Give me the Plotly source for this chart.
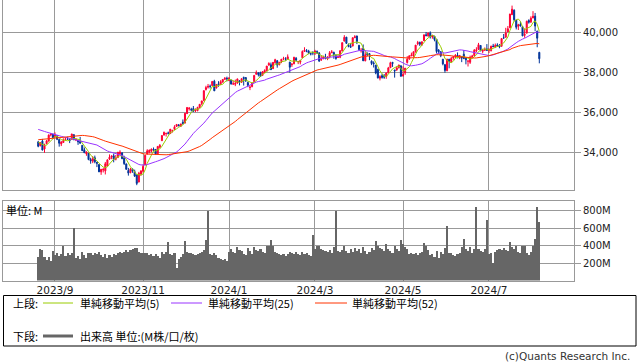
import pandas as pd
import plotly.graph_objects as go

# ---------------- data ----------------
start_date = "2023-08-22"
end_date = "2024-08-05"
holidays = ["2023-09-04", "2023-11-23", "2023-12-25", "2024-01-01", "2024-01-15",
            "2024-02-19", "2024-03-29", "2024-05-27", "2024-06-19", "2024-07-04"]

tick_dates = ["2023-09-01", "2023-11-01", "2024-01-02", "2024-03-01", "2024-05-01", "2024-07-01"]
tick_text = ["2023/9", "2023/11", "2024/1", "2024/3", "2024/5", "2024/7"]

# closes before the first drawn candle (needed for the moving averages)
prior_close = [33665, 33834, 33877, 34066, 34212, 33979, 34408, 34299, 34054, 33952, 33946, 33727,
               33715, 33927, 33853, 34122, 34408,
               34418, 34288, 33922, 33735, 33944, 34262, 34347, 34395, 34509, 34586, 34952, 35061,
               35225, 35228, 35411, 35438, 35520, 35283, 35459, 35560,
               35631, 35283, 35216, 35066, 35474, 35315, 35124, 35177, 35281, 35308, 34947, 34766,
               34475, 34501, 34464]

open_ = [
    34510, 34330, 34550, 34150, 34420, 34560, 34860, 34890,
    34800, 34820, 34630, 34410, 34480, 34630, 34650, 34640, 34640, 34870, 34610, 34600, 34530, 34340, 34110, 33900, 33930, 33620, 33540, 33710,
    33490, 33370, 33000, 33100, 33050, 33300, 33640, 33750, 33810, 33640, 33720, 33910, 33950, 33710, 33400, 33070, 32960, 33130, 33010, 32850, 32490, 32890,
    33030, 33350, 33900, 34000, 34050, 34150, 34130, 33910, 34240, 34570, 34850, 34930, 34960, 34930, 35080, 35140, 35290, 35360, 35300, 35500, 35460,
    35940, 36180, 36150, 36190, 36080, 36090, 36250, 36440, 36600, 37150, 37270, 37320, 37350, 37570, 37230, 37440, 37400, 37520, 37660, 37720,
    37600, 37620, 37420, 37410, 37480, 37590, 37520, 37760, 37750, 37500, 37250, 37300, 37550, 37920, 37990, 38000, 37870, 38000, 38090, 38380, 38400,
    38200, 38500, 38600, 38400, 38550, 38700, 38700, 38690, 38530, 38400, 38450, 38720, 38560, 38530, 38750, 39070, 39110, 39080, 38950, 39010,
    38980, 39070, 38990, 38640, 38710, 38800, 38700, 38790, 39010, 39020, 38850, 38770, 38780, 39100, 39590, 39790, 39400, 39330, 39340, 39760,
    39850, 39380, 39100, 39220, 38600, 38970, 38960, 38580, 38490, 38380, 38160, 37720, 37850, 37810, 37810, 38000, 38250, 38520, 38130, 38140, 38250, 38350,
    37830, 37990, 38510, 38700, 38850, 38830, 39050, 39460, 39530, 39400, 39610, 39910, 39850, 40000, 39800, 39840, 39680, 39130, 39060, 38680, 38400, 38100,
    38670, 38560, 38740, 38800, 38880, 38730, 38800, 38930, 38730, 38580, 38520, 38800, 38860, 39100, 39170, 39370, 39080, 39130, 39200,
    39120, 39110, 39340, 39300, 39400, 39370, 39330, 39760, 39780, 40050, 40260, 40920, 41150, 40650, 40340, 40430, 40320, 39880, 39990, 40630, 40560, 40760,
    40850, 40100, 39020,
]
high = [
    34560, 34500, 34660, 34420, 34610, 34890, 34960, 34930,
    34990, 34850, 34640, 34550, 34690, 34720, 34770, 34680, 34920, 34900, 34700, 34610, 34760, 34340, 34230, 34030, 33930, 33710, 33790, 33820,
    33490, 33380, 33140, 33200, 33500, 33620, 33880, 33810, 33920, 33850, 34010, 34090, 34000, 33810, 33420, 33200, 33200, 33180, 33110, 32860, 33000, 33060,
    33370, 33850, 34140, 34120, 34170, 34230, 34150, 34300, 34400, 34850, 35030, 34960, 35030, 35160, 35120, 35350, 35400, 35410, 35420, 35640, 35970,
    36250, 36270, 36230, 36320, 36200, 36280, 36410, 36580, 37110, 37340, 37430, 37400, 37560, 37640, 37420, 37570, 37620, 37680, 37780, 37800,
    37780, 37650, 37590, 37650, 37700, 37620, 37710, 37800, 37780, 37550, 37350, 37520, 37870, 38110, 38010, 38050, 38070, 38170, 38340, 38520, 38510,
    38530, 38700, 38640, 38540, 38680, 38800, 38780, 38920, 38550, 38490, 38800, 38790, 38590, 38650, 39120, 39280, 39190, 39150, 39010, 39080,
    39150, 39120, 39040, 38840, 38860, 38950, 38830, 39090, 39140, 39060, 38930, 38910, 39120, 39530, 39890, 39800, 39470, 39500, 39770, 39890,
    39860, 39380, 39240, 39420, 39030, 39020, 38990, 38620, 38570, 38380, 38200, 37870, 37940, 37930, 38000, 38290, 38550, 38540, 38150, 38320, 38400, 38350,
    38320, 38230, 38830, 38860, 39010, 39060, 39390, 39600, 39560, 39560, 39910, 40050, 40010, 40080, 39900, 39850, 39700, 39190, 39070, 38680, 38440, 38690,
    38700, 38800, 38830, 38930, 39020, 38880, 38800, 39140, 38760, 38610, 38860, 38900, 39190, 39280, 39500, 39390, 39190, 39270, 39440,
    39230, 39360, 39450, 39470, 39480, 39440, 39730, 39950, 40260, 40350, 40970, 41380, 41190, 40650, 40460, 40580, 40340, 40230, 40620, 40690, 40840, 41100,
    41010, 40100, 39050,
]
low = [
    34240, 34280, 34080, 33960, 34390, 34520, 34790, 34710,
    34720, 34600, 34270, 34300, 34470, 34580, 34620, 34450, 34610, 34600, 34550, 34360, 34430, 34050, 33950, 33810, 33590, 33410, 33440, 33430,
    33240, 32990, 32850, 32970, 32870, 33300, 33600, 33640, 33480, 33580, 33720, 33840, 33640, 33350, 33120, 32810, 32930, 32950, 32750, 32330, 32470, 32800,
    32950, 33350, 33880, 33930, 33980, 34040, 33870, 33890, 34200, 34570, 34850, 34780, 34880, 34910, 34980, 35130, 35290, 35290, 35260, 35390, 35440,
    35910, 36090, 36050, 36040, 36010, 36050, 36220, 36350, 36560, 37100, 37200, 37200, 37330, 37080, 37200, 37290, 37400, 37510, 37660, 37560,
    37600, 37400, 37390, 37320, 37440, 37360, 37480, 37350, 37530, 37270, 37120, 37260, 37530, 37900, 37810, 37780, 37840, 37980, 38090, 38350, 38140,
    38200, 38450, 38250, 38370, 38480, 38630, 38600, 38660, 38000, 38290, 38420, 38580, 38430, 38420, 38740, 39050, 39030, 38930, 38870, 38880,
    38890, 38940, 38540, 38590, 38670, 38670, 38630, 38720, 38980, 38700, 38650, 38750, 38730, 39070, 39570, 39450, 39280, 39270, 39330, 39750,
    39440, 39100, 39010, 38590, 38570, 38850, 38630, 38380, 38260, 37920, 37710, 37610, 37700, 37690, 37690, 37970, 38250, 38290, 37750, 38090, 38210, 37810,
    37810, 37890, 38460, 38640, 38830, 38820, 39010, 39380, 39340, 39350, 39600, 39830, 39810, 39720, 39710, 39580, 38970, 38950, 38780, 38370, 38000, 38070,
    38220, 38500, 38650, 38730, 38720, 38680, 38530, 38680, 38420, 38310, 38440, 38760, 38850, 39040, 39160, 39070, 38980, 39090, 39110,
    38990, 39070, 39300, 39240, 39300, 39230, 39320, 39700, 39780, 40050, 40260, 40920, 40590, 40180, 40150, 40320, 39840, 39760, 39990, 40470, 40500, 40740,
    40090, 39280, 38470,
]
close = [
    34288, 34473, 34099, 34346, 34559, 34852, 34890, 34722,
    34838, 34642, 34443, 34501, 34577, 34664, 34646, 34576, 34908, 34618, 34625, 34518, 34441, 34070, 33964, 34007, 33619, 33551, 33667, 33508,
    33433, 33002, 33129, 33120, 33408, 33605, 33740, 33804, 33631, 33670, 33985, 33998, 33665, 33415, 33127, 32937, 33141, 33036, 32785, 32418, 32929, 33053,
    33275, 33839, 34061, 34096, 34153, 34112, 33892, 34283, 34337, 34828, 34992, 34945, 34947, 35151, 35088, 35273, 35390, 35333, 35417, 35430, 35951,
    36246, 36204, 36125, 36054, 36118, 36248, 36405, 36577, 37090, 37248, 37306, 37306, 37558, 37083, 37405, 37386, 37546, 37657, 37711, 37690,
    37715, 37430, 37440, 37466, 37683, 37526, 37696, 37711, 37593, 37361, 37267, 37469, 37863, 38001, 37906, 37806, 38050, 38109, 38333, 38467, 38150,
    38519, 38654, 38380, 38521, 38677, 38726, 38671, 38797, 38273, 38424, 38773, 38628, 38564, 38612, 39069, 39131, 39069, 38972, 38949, 38996,
    39087, 38990, 38585, 38661, 38791, 38723, 38770, 39005, 39043, 38906, 38715, 38790, 39110, 39512, 39781, 39476, 39314, 39282, 39760, 39807,
    39567, 39170, 39127, 38597, 38904, 38892, 38884, 38462, 38459, 37983, 37735, 37799, 37753, 37775, 37986, 38240, 38504, 38461, 38086, 38240, 38386, 37816,
    37903, 38226, 38676, 38852, 38884, 39056, 39388, 39513, 39432, 39558, 39908, 39869, 40004, 39807, 39873, 39671, 39065, 39070, 38853, 38442, 38112, 38686,
    38571, 38711, 38807, 38886, 38799, 38868, 38747, 38712, 38647, 38589, 38778, 38834, 39134, 39150, 39411, 39112, 39127, 39164, 39118,
    39170, 39331, 39308, 39375, 39344, 39291, 39721, 39753, 40001, 40212, 40954, 41198, 40665, 40288, 40415, 40358, 39854, 39935, 40589, 40539, 40743, 40843,
    40347, 39737, 38703,
]
volume_m = [
    270, 365, 350, 265, 230, 265, 225, 340,
    290, 320, 285, 300, 390, 285, 310, 290, 320, 595, 260, 285, 250, 330, 290, 260, 310, 320, 290, 320,
    300, 330, 290, 270, 300, 260, 290, 270, 300, 290, 320, 330, 320, 330, 350, 330, 345, 355, 370, 375, 330, 310,
    310, 320, 310, 290, 300, 285, 300, 280, 260, 330, 300, 330, 435, 300, 290, 310, 140, 250, 270, 300, 450,
    330, 310, 320, 300, 290, 300, 310, 330, 350, 460, 800, 300, 290, 320, 290, 260, 250, 230, 250, 220,
    330, 360, 330, 320, 380, 350, 340, 300, 290, 370, 340, 300, 380, 350, 340, 360, 330, 320, 390, 400, 460,
    390, 330, 310, 300, 290, 300, 280, 300, 330, 320, 300, 330, 300, 290, 330, 300, 310, 290, 280, 520,
    360, 400, 390, 360, 350, 340, 330, 350, 320, 380, 790, 340, 330, 350, 400, 340, 320, 360, 330, 370,
    340, 360, 320, 380, 340, 300, 330, 370, 350, 450, 400, 370, 360, 340, 420, 360, 340, 320, 400, 360, 340, 460,
    420, 380, 360, 300, 320, 300, 320, 290, 320, 330, 430, 400, 350, 290, 300, 270, 340, 260, 330, 300, 370, 620,
    320, 310, 290, 280, 300, 310, 380, 470, 360, 340, 380, 310, 360, 840, 360, 340, 330, 360, 690,
    300, 320, 200, 330, 350, 360, 350, 370, 350, 340, 440, 380, 360, 390, 330, 310, 400, 390, 320, 290, 330, 400,
    470, 840, 665,
]

ma_periods = [5, 25, 52]
ma_colors = ["#99cc00", "#9933ff", "#ff3300"]
ma_labels = ["単純移動平均(5)", "単純移動平均(25)", "単純移動平均(52)"]
vol_ticks = [200, 400, 600, 800]
vol_ticktext = ["200M", "400M", "600M", "800M"]
price_ticks = [34000, 36000, 38000, 40000]

# ---------------- derived ----------------
days = pd.bdate_range(start_date, end_date)
days = days[~days.isin(pd.to_datetime(holidays))]
dates = [d.strftime("%Y-%m-%d") for d in days]

all_close = pd.Series(prior_close + close, dtype=float)
n = len(close)
mas = {p: all_close.rolling(p).mean().iloc[-n:].tolist() for p in ma_periods}

UP = "#ff0033"
DOWN = "#003399"
GRID = "#999999"
TXT = "#222222"
W, H = 638, 362
L_M, R_M = 3, 64
PW = W - L_M - R_M


def px(x):
    return (x - L_M) / PW


def py(y):
    return (H - y) / H


fig = go.Figure()
fig.add_trace(go.Candlestick(
    x=dates, open=open_, high=high, low=low, close=close,
    increasing=dict(line=dict(color=UP, width=1), fillcolor=UP),
    decreasing=dict(line=dict(color=DOWN, width=1), fillcolor=DOWN),
    whiskerwidth=0, xaxis="x", yaxis="y", showlegend=False, hoverinfo="skip"))
for p, col in zip(ma_periods, ma_colors):
    fig.add_trace(go.Scatter(x=dates, y=mas[p], mode="lines", line=dict(color=col, width=1),
                             xaxis="x", yaxis="y", showlegend=False, hoverinfo="skip"))
fig.add_trace(go.Bar(x=dates, y=volume_m, marker=dict(color="#666666", line=dict(width=0)),
                     xaxis="x2", yaxis="y2", showlegend=False, hoverinfo="skip"))

xr = [-16.8, 255.55]
common_x = dict(type="category", range=xr, tickvals=tick_dates, showgrid=True, gridcolor=GRID,
                gridwidth=1, ticks="", showline=True, mirror=True, linecolor=GRID, linewidth=1,
                zeroline=False, fixedrange=True)
fig.update_layout(
    width=W, height=H, margin=dict(l=L_M, r=R_M, t=0, b=0),
    paper_bgcolor="white", plot_bgcolor="white", bargap=0, showlegend=False,
    xaxis=dict(common_x, anchor="y", showticklabels=False, rangeslider=dict(visible=False), domain=[0, 1]),
    xaxis2=dict(common_x, anchor="y2", showticklabels=True, ticktext=tick_text, domain=[0, 1],
                tickfont=dict(family="DejaVu Sans", size=10.5, color=TXT)),
    yaxis=dict(domain=[py(190), 1], side="right", range=[32086, 41662], tickvals=price_ticks,
               tickformat=",", ticks="outside", ticklen=6, tickcolor=GRID, showgrid=True,
               gridcolor=GRID, showline=True, mirror=True, linecolor=GRID, zeroline=False,
               tickfont=dict(family="DejaVu Sans", size=10, color=TXT)),
    yaxis2=dict(domain=[py(280.5), py(201)], side="right", range=[0, 909], tickvals=vol_ticks,
                ticktext=vol_ticktext, ticks="outside", ticklen=6, tickcolor=GRID, showgrid=True,
                gridcolor=GRID, showline=True, mirror=True, linecolor=GRID, zeroline=False,
                tickfont=dict(family="DejaVu Sans", size=10, color=TXT)),
)

shapes = [
    dict(type="rect", xref="paper", yref="paper", x0=px(3.5), x1=px(636), y0=py(295.5), y1=py(346),
         line=dict(color="#000000", width=1)),
]
line_pos = [(43, 73), (171, 202), (315, 347)]
for (a, b), col in zip(line_pos, ma_colors):
    shapes.append(dict(type="line", xref="paper", yref="paper", x0=px(a), x1=px(b), y0=py(303), y1=py(303),
                       line=dict(color=col, width=1)))
shapes.append(dict(type="line", xref="paper", yref="paper", x0=px(43), x1=px(73), y0=py(336), y1=py(336),
                   line=dict(color="#666666", width=3)))

JP = "Noto Sans CJK JP"
ann = []


def text(x, y, s, size=11, anchor="left", fam=JP, color="#000000"):
    ann.append(dict(xref="paper", yref="paper", x=px(x), y=py(y), text=s, showarrow=False,
                    xanchor=anchor, yanchor="middle", font=dict(family=fam, size=size, color=color)))


text(11, 303, "上段:")
for x0, lab in zip([78, 206, 350], ma_labels):
    text(x0, 303, lab)
text(11, 336, "下段:")
text(78, 336, "出来高 単位:(M株/口/枚)")
text(4, 210, "単位: M")
text(632, 356, "(c)Quants Research Inc.", size=10.5, anchor="right", fam="DejaVu Sans", color="#333333")

fig.update_layout(shapes=shapes, annotations=ann)
fig.write_html("out.html", config={"displayModeBar": False, "staticPlot": True},
               post_script="document.body.style.margin='0';document.body.style.padding='0';"
                           "document.body.style.overflow='hidden';")
